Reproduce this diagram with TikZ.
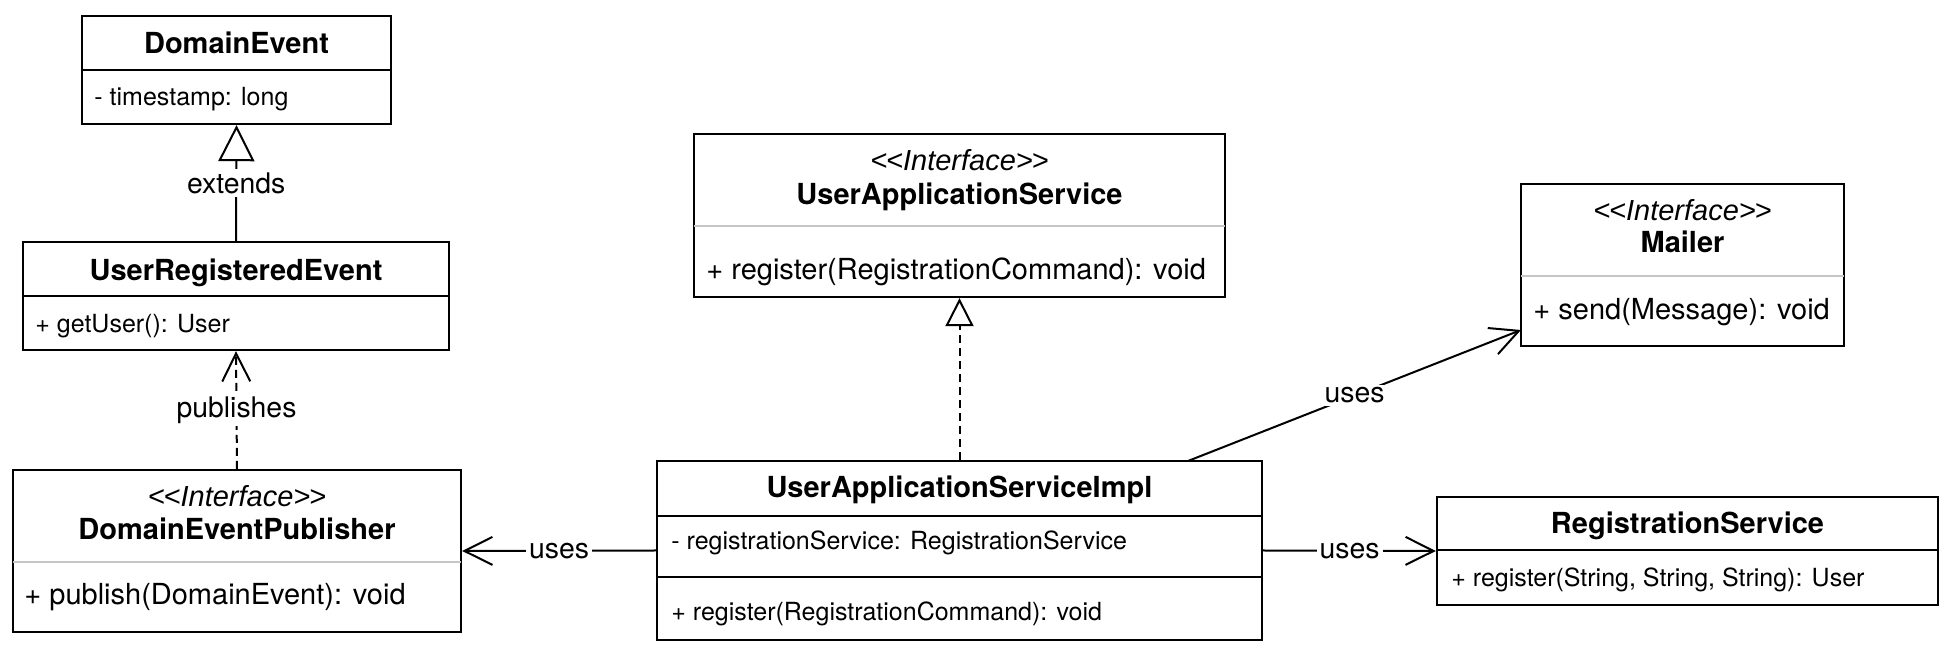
\documentclass[tikz,border=0pt]{standalone}
\usepackage{fontspec}
\setmainfont{TeX Gyre Heros}
\newfontfamily\stfont{Liberation Sans}
\usetikzlibrary{arrows.meta}
\newcommand\fbig{\fontsize{14.5}{17}\selectfont}
\newcommand\fsmall{\fontsize{12.5}{15}\selectfont}
\newcommand\flbl{\fontsize{14.2}{17}\selectfont}
\newcommand\stereo[1]{<\kern-0.6pt<#1>\kern-0.6pt>}
\begin{document}
\begin{tikzpicture}[x=0.5pt,y=-0.5pt,
 box/.style={draw, line width=1.2pt, rectangle, inner sep=0pt},
 div/.style={line width=1.2pt},
 idiv/.style={line width=1.2pt, draw=gray!45},
 cls/.style={font=\fbig\bfseries, anchor=base, inner sep=0pt},
 ster/.style={font=\fbig\stfont\itshape, anchor=base, inner sep=0pt},
 mem/.style={font=\fsmall, anchor=base west, inner sep=0pt},
 imem/.style={font=\fbig, anchor=base west, inner sep=0pt},
 lbl/.style={font=\flbl, fill=white, inner sep=1.5pt},
 uses/.style={line width=1pt, -{Straight Barb[length=14pt,width=14pt]}},
 depend/.style={uses, dash pattern=on 4pt off 2.5pt},
 gen/.style={line width=1pt, -{Triangle[open,length=18pt,width=18pt]}},
 real/.style={line width=1pt, dash pattern=on 4pt off 2.5pt, -{Triangle[open,length=14pt,width=14pt]}},
]
\useasboundingbox (0,0) rectangle (1950,656);

% DomainEvent
\node[box, minimum width=309*0.5pt, minimum height=108*0.5pt] (de) at (236.5,70) {};
\draw[div] (82,70) -- (391,70);
\node[cls] (de-n) at (236.5,54) {DomainEvent};
\node[mem] (de-a) at (94,106) {- timestamp: long};

% UserRegisteredEvent
\node[box, minimum width=426*0.5pt, minimum height=108*0.5pt] (ure) at (236,296) {};
\draw[div] (23,296) -- (449,296);
\node[cls] (ure-n) at (236,281) {UserRegisteredEvent};
\node[mem] (ure-m) at (35,333) {+ getUser(): User};

% DomainEventPublisher
\node[box, minimum width=448*0.5pt, minimum height=162*0.5pt] (dep) at (237,551) {};
\draw[idiv] (13,562) -- (461,562);
\node[ster] (dep-s) at (237,507) {\stereo{Interface}};
\node[cls] (dep-n) at (237,540) {DomainEventPublisher};
\node[imem] (dep-m) at (24,605) {+ publish(DomainEvent): void};

% UserApplicationService
\node[box, minimum width=531*0.5pt, minimum height=163*0.5pt] (uas) at (959.5,215.5) {};
\draw[idiv] (694,226) -- (1225,226);
\node[ster] (uas-s) at (959.5,171) {\stereo{Interface}};
\node[cls] (uas-n) at (959.5,205) {UserApplicationService};
\node[imem] (uas-m) at (706,280) {+ register(RegistrationCommand): void};

% UserApplicationServiceImpl
\node[box, minimum width=605*0.5pt, minimum height=179*0.5pt] (impl) at (959.5,550.5) {};
\draw[div] (657,516) -- (1262,516);
\draw[div] (657,577) -- (1262,577);
\node[cls] (impl-n) at (959.5,498) {UserApplicationServiceImpl};
\node[mem] (impl-a) at (671,550) {- registrationService: RegistrationService};
\node[mem] (impl-m) at (671,621) {+ register(RegistrationCommand): void};

% Mailer
\node[box, minimum width=323*0.5pt, minimum height=162*0.5pt] (mailer) at (1682.5,265) {};
\draw[idiv] (1521,276) -- (1844,276);
\node[ster] (mailer-s) at (1682.5,221) {\stereo{Interface}};
\node[cls] (mailer-n) at (1682.5,253) {Mailer};
\node[imem] (mailer-m) at (1533,320) {+ send(Message): void};

% RegistrationService
\node[box, minimum width=501*0.5pt, minimum height=108*0.5pt] (reg) at (1687.5,551) {};
\draw[div] (1437,550) -- (1938,550);
\node[cls] (reg-n) at (1687.5,534) {RegistrationService};
\node[mem] (reg-m) at (1451,587) {+ register(String, String, String): User};

% connectors
\draw[gen] (ure.north) -- node[lbl] (l-ext) {extends} (de.south);
\draw[depend] (dep.north) -- node[lbl] (l-pub) {publishes} (ure.south);
\draw[real] (impl.north) -- (uas.south);
\draw[uses] (impl.west) -- node[lbl] (l-u1) {uses} (dep.east);
\draw[uses] (impl.east) -- node[lbl] (l-u2) {uses} (reg.west);
\coordinate (mfrom) at (1188,461);
\coordinate (mto) at (1521,330);
\draw[uses] (mfrom) -- node[lbl] (l-u3) {uses} (mto);
\end{tikzpicture}
\end{document}
